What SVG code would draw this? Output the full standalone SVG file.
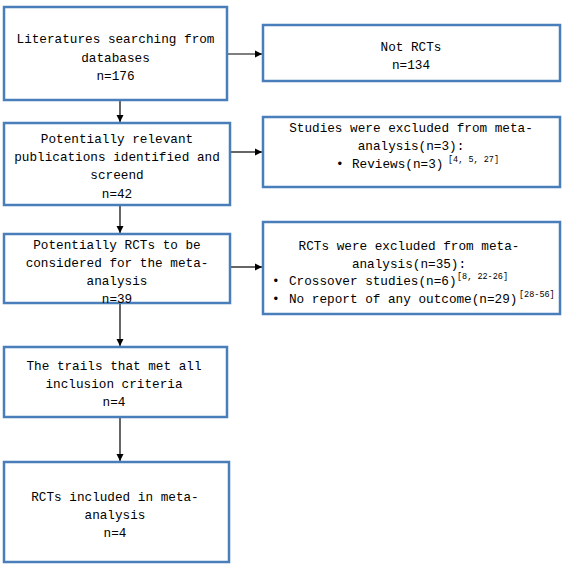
<svg xmlns="http://www.w3.org/2000/svg" width="567" height="567" viewBox="0 0 567 567">
<defs>
<style>
.box{fill:#ffffff;stroke:#4a7ebb;stroke-width:2.5}
.t{font-family:"Liberation Mono","DejaVu Sans Mono",monospace;font-size:12.7px;fill:#000}
.c{text-anchor:middle}
.s{font-family:"Liberation Mono","DejaVu Sans Mono",monospace;font-size:8.5px;fill:#000}
.ln{stroke:#000;stroke-width:1.2;fill:none;marker-end:url(#ah)}
</style>
<marker id="ah" markerWidth="8" markerHeight="8" refX="7" refY="4" orient="auto" markerUnits="userSpaceOnUse">
<path d="M0,0.5 L7,4 L0,7.5 Z" fill="#000"/>
</marker>
</defs>
<rect width="567" height="567" fill="#ffffff"/>
<g id="connectors">
<line class="ln" x1="120" y1="101" x2="120" y2="122"/>
<line class="ln" x1="120" y1="206" x2="120" y2="233"/>
<line class="ln" x1="120" y1="304" x2="120" y2="346"/>
<line class="ln" x1="120" y1="418" x2="120" y2="461"/>
<line class="ln" x1="227" y1="54" x2="262" y2="54"/>
<line class="ln" x1="230" y1="152" x2="262" y2="152"/>
<line class="ln" x1="230" y1="267" x2="262" y2="267"/>
</g>
<g id="n1">
<rect class="box" x="4" y="7" width="223" height="93"/>
<text class="t c" x="115.5" y="43">Literatures searching from</text>
<text class="t c" x="115.5" y="61.5">databases</text>
<text class="t c" x="115.5" y="80">n=176</text>
</g>
<g id="n2">
<rect class="box" x="263" y="25" width="297" height="56"/>
<text class="t c" x="411" y="51">Not RCTs</text>
<text class="t c" x="411" y="69">n=134</text>
</g>
<g id="n3">
<rect class="box" x="4" y="123" width="226" height="82"/>
<text class="t c" x="117" y="142.5">Potentially relevant</text>
<text class="t c" x="117" y="161">publications identified and</text>
<text class="t c" x="117" y="179">screend</text>
<text class="t c" x="117" y="197.5">n=42</text>
</g>
<g id="n4">
<rect class="box" x="263" y="117" width="297" height="70"/>
<text class="t c" x="411" y="132">Studies were excluded from meta-</text>
<text class="t c" x="411" y="150">analysis(n=3):</text>
<text class="t" x="336" y="168">•</text>
<text class="t" x="352" y="168">Reviews(n=3)</text>
<text class="s" x="448" y="162">[4, 5, 27]</text>
</g>
<g id="n5">
<rect class="box" x="4" y="234" width="226" height="69"/>
<text class="t c" x="117" y="248.5">Potentially RCTs to be</text>
<text class="t c" x="117" y="266.5">considered for the meta-</text>
<text class="t c" x="117" y="284.5">analysis</text>
<text class="t c" x="117" y="302.5">n=39</text>
</g>
<g id="n6">
<rect class="box" x="263" y="222" width="297" height="92"/>
<text class="t c" x="409" y="249.5">RCTs were excluded from meta-</text>
<text class="t c" x="409" y="267.5">analysis(n=35):</text>
<text class="t" x="272" y="285">•</text>
<text class="t" x="289" y="285">Crossover studies(n=6)</text>
<text class="s" x="457" y="279">[8, 22-26]</text>
<text class="t" x="272" y="302.5">•</text>
<text class="t" x="289" y="302.5">No report of any outcome(n=29)</text>
<text class="s" x="519" y="296.5">[28-56]</text>
</g>
<g id="n7">
<rect class="box" x="4" y="347" width="223" height="70"/>
<text class="t c" x="114" y="370">The trails that met all</text>
<text class="t c" x="114" y="388">inclusion criteria</text>
<text class="t c" x="114" y="406">n=4</text>
</g>
<g id="n8">
<rect class="box" x="4" y="462" width="225" height="100"/>
<text class="t c" x="115" y="501">RCTs included in meta-</text>
<text class="t c" x="115" y="519">analysis</text>
<text class="t c" x="115" y="537">n=4</text>
</g>
</svg>
